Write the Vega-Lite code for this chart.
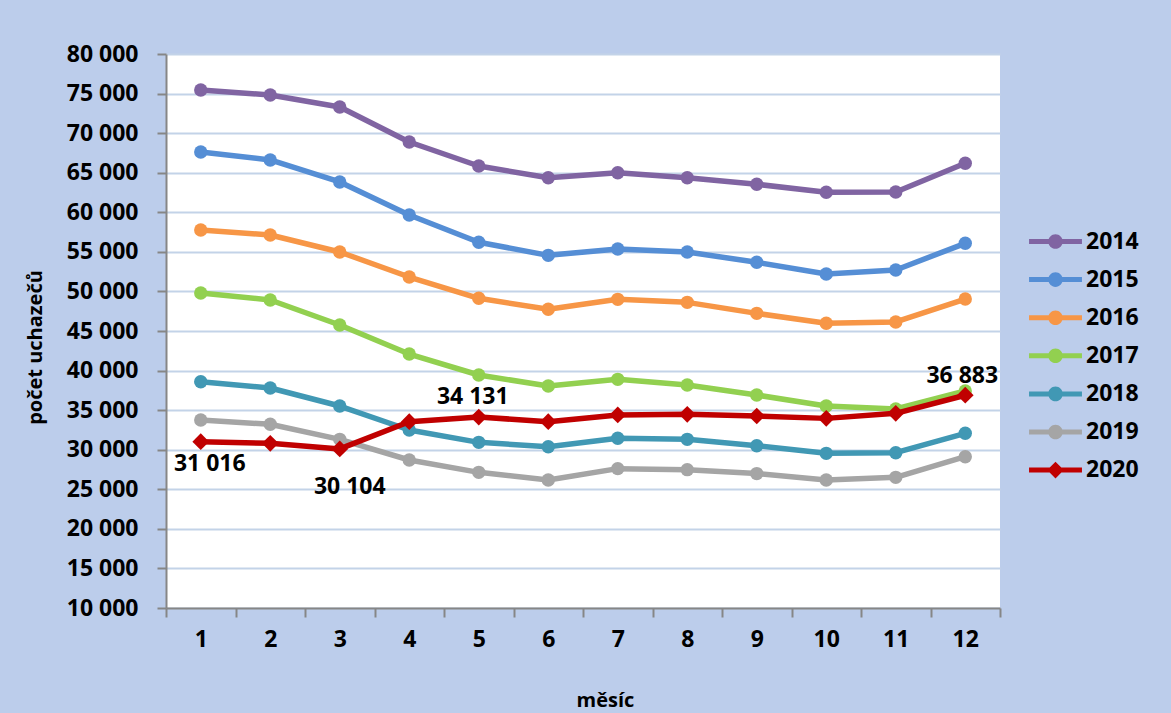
{
  "$schema": "https://vega.github.io/schema/vega-lite/v6.json",
  "width": 834,
  "height": 554,
  "autosize": "none",
  "padding": {"left": 166, "top": 54, "right": 171, "bottom": 105},
  "background": "#bccdeb",
  "config": {
    "view": {"stroke": null, "fill": "white"},
    "font": "Open Sans",
    "locale": {"number": {"decimal": ",", "thousands": " ", "grouping": [3], "currency": ["", ""]}}
  },
  "data": {
    "values": [
      {"month": 1, "year": "2014", "value": 75450}, {"month": 2, "year": "2014", "value": 74820}, {"month": 3, "year": "2014", "value": 73300}, {"month": 4, "year": "2014", "value": 68880}, {"month": 5, "year": "2014", "value": 65850}, {"month": 6, "year": "2014", "value": 64370}, {"month": 7, "year": "2014", "value": 65000}, {"month": 8, "year": "2014", "value": 64370}, {"month": 9, "year": "2014", "value": 63540}, {"month": 10, "year": "2014", "value": 62530}, {"month": 11, "year": "2014", "value": 62560}, {"month": 12, "year": "2014", "value": 66190},
      {"month": 1, "year": "2015", "value": 67620}, {"month": 2, "year": "2015", "value": 66610}, {"month": 3, "year": "2015", "value": 63830}, {"month": 4, "year": "2015", "value": 59660}, {"month": 5, "year": "2015", "value": 56210}, {"month": 6, "year": "2015", "value": 54560}, {"month": 7, "year": "2015", "value": 55360}, {"month": 8, "year": "2015", "value": 54980}, {"month": 9, "year": "2015", "value": 53680}, {"month": 10, "year": "2015", "value": 52200}, {"month": 11, "year": "2015", "value": 52710}, {"month": 12, "year": "2015", "value": 56080},
      {"month": 1, "year": "2016", "value": 57760}, {"month": 2, "year": "2016", "value": 57130}, {"month": 3, "year": "2016", "value": 54980}, {"month": 4, "year": "2016", "value": 51820}, {"month": 5, "year": "2016", "value": 49130}, {"month": 6, "year": "2016", "value": 47740}, {"month": 7, "year": "2016", "value": 49000}, {"month": 8, "year": "2016", "value": 48620}, {"month": 9, "year": "2016", "value": 47230}, {"month": 10, "year": "2016", "value": 45970}, {"month": 11, "year": "2016", "value": 46140}, {"month": 12, "year": "2016", "value": 49040},
      {"month": 1, "year": "2017", "value": 49800}, {"month": 2, "year": "2017", "value": 48920}, {"month": 3, "year": "2017", "value": 45760}, {"month": 4, "year": "2017", "value": 42090}, {"month": 5, "year": "2017", "value": 39440}, {"month": 6, "year": "2017", "value": 38050}, {"month": 7, "year": "2017", "value": 38890}, {"month": 8, "year": "2017", "value": 38170}, {"month": 9, "year": "2017", "value": 36910}, {"month": 10, "year": "2017", "value": 35520}, {"month": 11, "year": "2017", "value": 35140}, {"month": 12, "year": "2017", "value": 37420},
      {"month": 1, "year": "2018", "value": 38590}, {"month": 2, "year": "2018", "value": 37800}, {"month": 3, "year": "2018", "value": 35520}, {"month": 4, "year": "2018", "value": 32490}, {"month": 5, "year": "2018", "value": 30930}, {"month": 6, "year": "2018", "value": 30380}, {"month": 7, "year": "2018", "value": 31440}, {"month": 8, "year": "2018", "value": 31310}, {"month": 9, "year": "2018", "value": 30500}, {"month": 10, "year": "2018", "value": 29540}, {"month": 11, "year": "2018", "value": 29620}, {"month": 12, "year": "2018", "value": 32070},
      {"month": 1, "year": "2019", "value": 33750}, {"month": 2, "year": "2019", "value": 33210}, {"month": 3, "year": "2019", "value": 31310}, {"month": 4, "year": "2019", "value": 28700}, {"month": 5, "year": "2019", "value": 27140}, {"month": 6, "year": "2019", "value": 26170}, {"month": 7, "year": "2019", "value": 27610}, {"month": 8, "year": "2019", "value": 27480}, {"month": 9, "year": "2019", "value": 26980}, {"month": 10, "year": "2019", "value": 26170}, {"month": 11, "year": "2019", "value": 26510}, {"month": 12, "year": "2019", "value": 29120},
      {"month": 1, "year": "2020", "value": 31016}, {"month": 2, "year": "2020", "value": 30810}, {"month": 3, "year": "2020", "value": 30104}, {"month": 4, "year": "2020", "value": 33540}, {"month": 5, "year": "2020", "value": 34131}, {"month": 6, "year": "2020", "value": 33540}, {"month": 7, "year": "2020", "value": 34390}, {"month": 8, "year": "2020", "value": 34470}, {"month": 9, "year": "2020", "value": 34260}, {"month": 10, "year": "2020", "value": 33960}, {"month": 11, "year": "2020", "value": 34600}, {"month": 12, "year": "2020", "value": 36883}
    ]
  },
  "encoding": {
    "x": {
      "field": "month", "type": "ordinal",
      "scale": {"type": "band", "paddingInner": 0, "paddingOuter": 0},
      "axis": {
        "title": "měsíc", "labelAngle": 0, "tickBand": "extent",
        "labelFontSize": 23, "labelFontWeight": "bold", "labelColor": "black", "labelPadding": 11,
        "tickSize": 9, "tickColor": "#868686", "tickWidth": 2,
        "domainColor": "#868686", "domainWidth": 2,
        "grid": false,
        "titleFontSize": 20, "titleFontWeight": "bold", "titleColor": "black",
        "titleX": 439, "titleY": 98, "titleBaseline": "alphabetic"
      }
    },
    "y": {
      "field": "value", "type": "quantitative",
      "scale": {"domain": [10000, 80000], "nice": false, "zero": false},
      "axis": {
        "title": "počet uchazečů",
        "values": [10000, 15000, 20000, 25000, 30000, 35000, 40000, 45000, 50000, 55000, 60000, 65000, 70000, 75000, 80000],
        "format": ",d",
        "labelFontSize": 23, "labelFontWeight": "bold", "labelColor": "black", "labelPadding": 19,
        "tickSize": 9, "tickColor": "#868686", "tickWidth": 2,
        "domainColor": "#868686", "domainWidth": 2,
        "gridColor": "#c3d3e8", "gridWidth": 2,
        "titleFontSize": 20, "titleFontWeight": "bold", "titleColor": "black",
        "titleX": -121, "titleY": 293
      }
    },
    "color": {
      "field": "year", "type": "nominal",
      "scale": {
        "domain": ["2014", "2015", "2016", "2017", "2018", "2019", "2020"],
        "range": ["#8064a2", "#558ed5", "#f79646", "#92d050", "#4198b4", "#a5a5a5", "#c00000"]
      },
      "legend": {
        "orient": "none", "legendX": 876, "legendY": 174, "title": null, "padding": 0,
        "labelFont": "Open Sans", "labelFontSize": 23, "labelFontWeight": "bold", "labelColor": "black",
        "symbolSize": 700, "rowPadding": 12.1, "labelOffset": 17,
        "encode": {
          "symbols": {
            "update": {
              "shape": {"signal": "datum.value == '2020' ? 'M-2,-0.19L2,-0.19L2,0.19L-2,0.19Z M0,-0.63L0.63,0L0,0.63L-0.63,0Z' : 'M-2,-0.19L2,-0.19L2,0.19L-2,0.19Z M-0.55,0A0.55,0.55,0,1,1,0.55,0A0.55,0.55,0,1,1,-0.55,0Z'"},
              "fill": {"scale": "color", "field": "value"},
              "stroke": {"value": "transparent"},
              "strokeWidth": {"value": 0},
              "size": {"value": 700},
              "opacity": {"value": 1},
              "fillOpacity": {"value": 1}
            }
          }
        }
      }
    }
  },
  "layer": [
    {
      "transform": [{"filter": "datum.year != '2020'"}],
      "mark": {"type": "line", "strokeWidth": 5.5, "strokeJoin": "round"}
    },
    {
      "transform": [{"filter": "datum.year != '2020'"}],
      "mark": {"type": "point", "shape": "circle", "filled": true, "opacity": 1, "size": 180}
    },
    {
      "transform": [{"filter": "datum.year == '2020'"}],
      "mark": {"type": "line", "strokeWidth": 5.5, "strokeJoin": "round"}
    },
    {
      "transform": [{"filter": "datum.year == '2020'"}],
      "mark": {"type": "point", "shape": "diamond", "filled": true, "opacity": 1, "size": 280}
    },
    {
      "transform": [{"filter": "datum.year == '2020' && datum.month == 1"}],
      "mark": {"type": "text", "fontSize": 23, "fontWeight": "bold", "color": "black", "dx": 9, "dy": 22},
      "encoding": {"text": {"field": "value", "type": "quantitative", "format": ",d"}, "color": {"value": "black"}}
    },
    {
      "transform": [{"filter": "datum.year == '2020' && datum.month == 3"}],
      "mark": {"type": "text", "fontSize": 23, "fontWeight": "bold", "color": "black", "dx": 10, "dy": 38},
      "encoding": {"text": {"field": "value", "type": "quantitative", "format": ",d"}, "color": {"value": "black"}}
    },
    {
      "transform": [{"filter": "datum.year == '2020' && datum.month == 5"}],
      "mark": {"type": "text", "fontSize": 23, "fontWeight": "bold", "color": "black", "dx": -6, "dy": -20},
      "encoding": {"text": {"field": "value", "type": "quantitative", "format": ",d"}, "color": {"value": "black"}}
    },
    {
      "transform": [{"filter": "datum.year == '2020' && datum.month == 12"}],
      "mark": {"type": "text", "fontSize": 23, "fontWeight": "bold", "color": "black", "dx": -3, "dy": -19},
      "encoding": {"text": {"field": "value", "type": "quantitative", "format": ",d"}, "color": {"value": "black"}}
    }
  ]
}
